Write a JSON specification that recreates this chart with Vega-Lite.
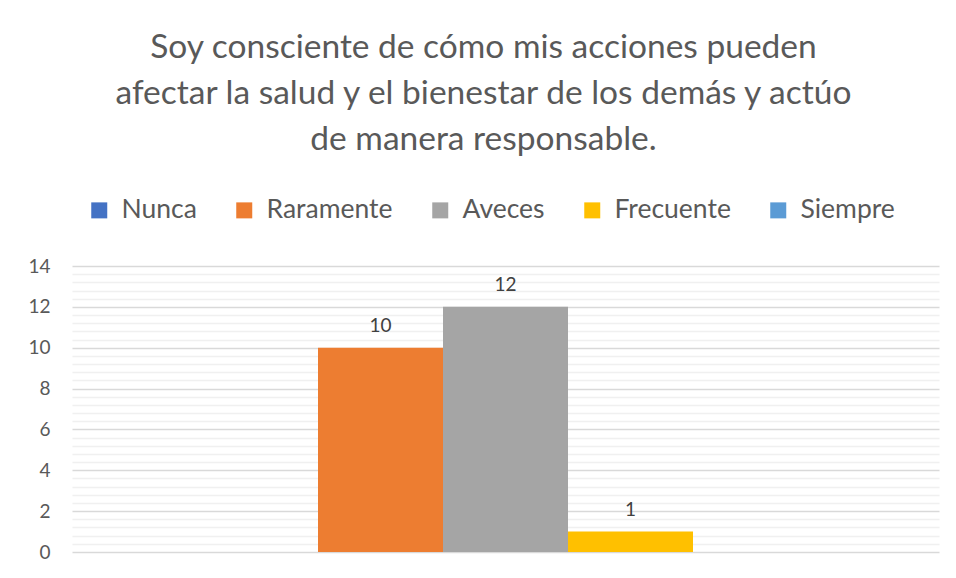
{
  "$schema": "https://vega.github.io/schema/vega-lite/v6.json",
  "autosize": {"type": "none"},
  "width": 867,
  "height": 286,
  "padding": {"left": 72, "top": 266, "right": 17, "bottom": 26},
  "background": "white",
  "title": {
    "text": ["Soy consciente de cómo mis acciones pueden", "afectar la salud y el bienestar de los demás y actúo", "de manera responsable."],
    "font": "Lato",
    "fontSize": 33.5,
    "fontWeight": "normal",
    "color": "#595959",
    "lineHeight": 46,
    "frame": "bounds",
    "anchor": "middle",
    "offset": 40
  },
  "data": {
    "values": [
      {"serie": "Nunca", "valor": 0},
      {"serie": "Raramente", "valor": 10},
      {"serie": "Aveces", "valor": 12},
      {"serie": "Frecuente", "valor": 1},
      {"serie": "Siempre", "valor": 0}
    ]
  },
  "encoding": {
    "x": {"field": "serie", "type": "nominal", "sort": ["Nunca", "Raramente", "Aveces", "Frecuente", "Siempre"],
          "scale": {"paddingInner": 0, "paddingOuter": 0.968}, "axis": null},
    "y": {"field": "valor", "type": "quantitative", "scale": {"domain": [0, 14], "nice": false},
          "axis": {
            "title": null,
            "values": [0, 0.4, 0.8, 1.2, 1.6, 2, 2.4, 2.8, 3.2, 3.6, 4, 4.4, 4.8, 5.2, 5.6, 6, 6.4, 6.8, 7.2, 7.6, 8, 8.4, 8.8, 9.2, 9.6, 10, 10.4, 10.8, 11.2, 11.6, 12, 12.4, 12.8, 13.2, 13.6, 14],
            "labelExpr": "abs(datum.value % 2) < 0.001 ? format(datum.value, 'd') : ''",
            "grid": true,
            "gridColor": {"condition": {"test": "abs(datum.value % 2) < 0.001", "value": "#d9d9d9"}, "value": "#f0f0f0"},
            "gridWidth": 1.5,
            "ticks": false,
            "domain": false,
            "labelFont": "Lato",
            "labelFontSize": 19,
            "labelColor": "#595959",
            "labelPadding": 22,
            "labelOverlap": false
          }}
  },
  "layer": [
    {
      "mark": {"type": "bar"},
      "encoding": {
        "color": {"field": "serie", "type": "nominal",
          "scale": {"domain": ["Nunca", "Raramente", "Aveces", "Frecuente", "Siempre"],
                    "range": ["#4472c4", "#ed7d31", "#a5a5a5", "#ffc000", "#5b9bd5"]},
          "legend": {
            "title": null,
            "orient": "none",
            "direction": "horizontal",
            "columns": 5,
            "legendX": 14,
            "legendY": -69,
            "padding": 0,
            "symbolType": "square",
            "symbolSize": 256,
            "symbolStrokeWidth": 0,
            "labelFont": "Lato",
            "labelFontSize": 26.5,
            "labelColor": "#595959",
            "labelOffset": 9,
            "columnPadding": 34,
            "labelLimit": 300
          }}
      }
    },
    {
      "transform": [{"filter": "datum.valor > 0"}],
      "mark": {"type": "text", "baseline": "alphabetic", "dy": -16, "font": "Lato", "fontSize": 19, "color": "#404040"},
      "encoding": {"text": {"field": "valor", "type": "quantitative"}}
    }
  ],
  "config": {"view": {"stroke": null}}
}
